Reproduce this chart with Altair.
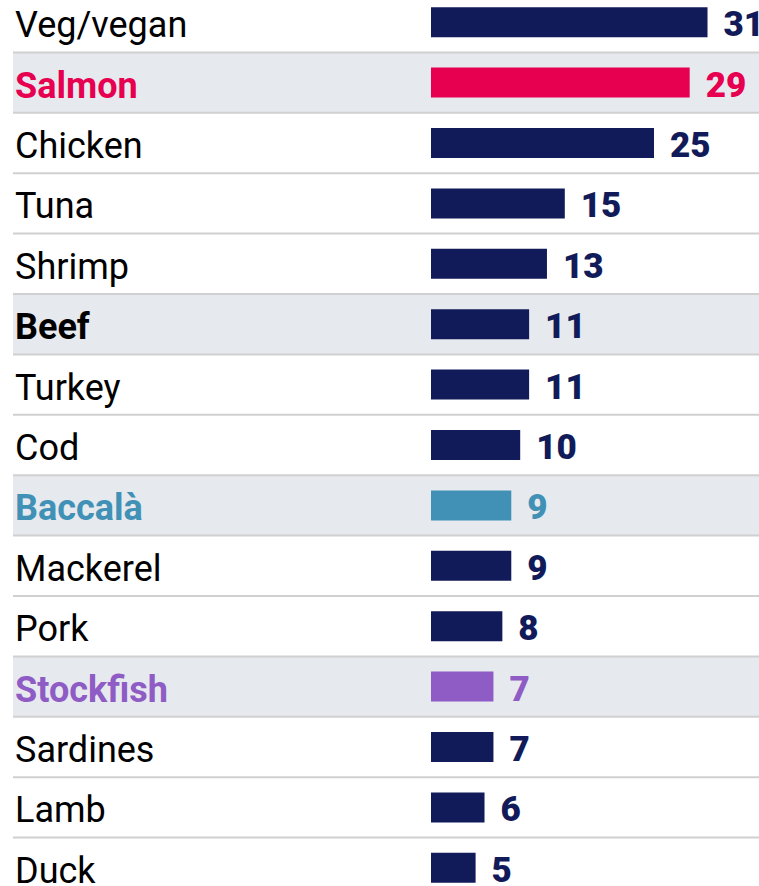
import altair as alt
import pandas as pd

categories = ["Veg/vegan", "Salmon", "Chicken", "Tuna", "Shrimp", "Beef", "Turkey", "Cod",
              "Baccalà", "Mackerel", "Pork", "Stockfish", "Sardines", "Lamb", "Duck"]
values = [31, 29, 25, 15, 13, 11, 11, 10, 9, 9, 8, 7, 7, 6, 5]
highlighted = [False, True, False, False, False, True, False, False, True, False, False, True, False, False, False]
bar_colors = ["#121b59", "#e6004f", "#121b59", "#121b59", "#121b59", "#121b59", "#121b59", "#121b59",
              "#4191b7", "#121b59", "#121b59", "#8f5bc4", "#121b59", "#121b59", "#121b59"]
label_colors = ["#000000", "#e6004f", "#000000", "#000000", "#000000", "#000000", "#000000", "#000000",
                "#4191b7", "#000000", "#000000", "#8f5bc4", "#000000", "#000000", "#000000"]

df = pd.DataFrame({
    "category": categories,
    "value": values,
    "hl": highlighted,
    "bc": bar_colors,
    "lc": label_colors,
})

W = 746
H = 906
px_per_unit = 8.92
x0 = 418
xmin = -x0 / px_per_unit
xmax = (W - x0) / px_per_unit

FONT = "Roboto"

y_enc = alt.Y("category:N", sort=categories, axis=None,
              scale=alt.Scale(paddingInner=0, paddingOuter=0))
x_scale = alt.Scale(domain=[xmin, xmax], nice=False, zero=False)

base = alt.Chart(df)

bg = base.transform_filter("datum.hl").mark_rect(color="#e6e9ee").encode(
    y=y_enc, x=alt.value(0), x2=alt.value(W)
)

rules = base.mark_rule(color="#d0d0d0", strokeWidth=2, yOffset=-H / 30).encode(
    y=y_enc, x=alt.value(0), x2=alt.value(W)
)

bars = base.mark_bar(size=30).encode(
    y=y_enc,
    x=alt.X("value:Q", axis=None, scale=x_scale),
    x2=alt.datum(0),
    color=alt.Color("bc:N", scale=None),
)

nums = base.mark_text(font=FONT, fontSize=35, fontWeight=900, align="left",
                      baseline="middle", dx=16, dy=3).encode(
    y=y_enc,
    x=alt.X("value:Q", axis=None, scale=x_scale),
    text=alt.Text("value:Q"),
    color=alt.Color("bc:N", scale=None),
)

labels_reg = base.transform_filter("!datum.hl").mark_text(
    font=FONT, fontSize=36, align="left", baseline="middle", dy=4).encode(
    y=y_enc, x=alt.value(2), text="category:N",
    color=alt.Color("lc:N", scale=None),
)

labels_bold = base.transform_filter("datum.hl").mark_text(
    font=FONT, fontSize=36, fontWeight="bold", align="left", baseline="middle", dy=4).encode(
    y=y_enc, x=alt.value(2), text="category:N",
    color=alt.Color("lc:N", scale=None),
)

chart = alt.layer(bg, rules, bars, nums, labels_reg, labels_bold).properties(
    width=W, height=H,
    autosize=alt.AutoSizeParams(type="none"),
    padding={"left": 13, "top": -8, "right": 0, "bottom": 0},
).configure_view(stroke=None)

chart.save("out.html", embed_options={"renderer": "svg", "actions": False})
